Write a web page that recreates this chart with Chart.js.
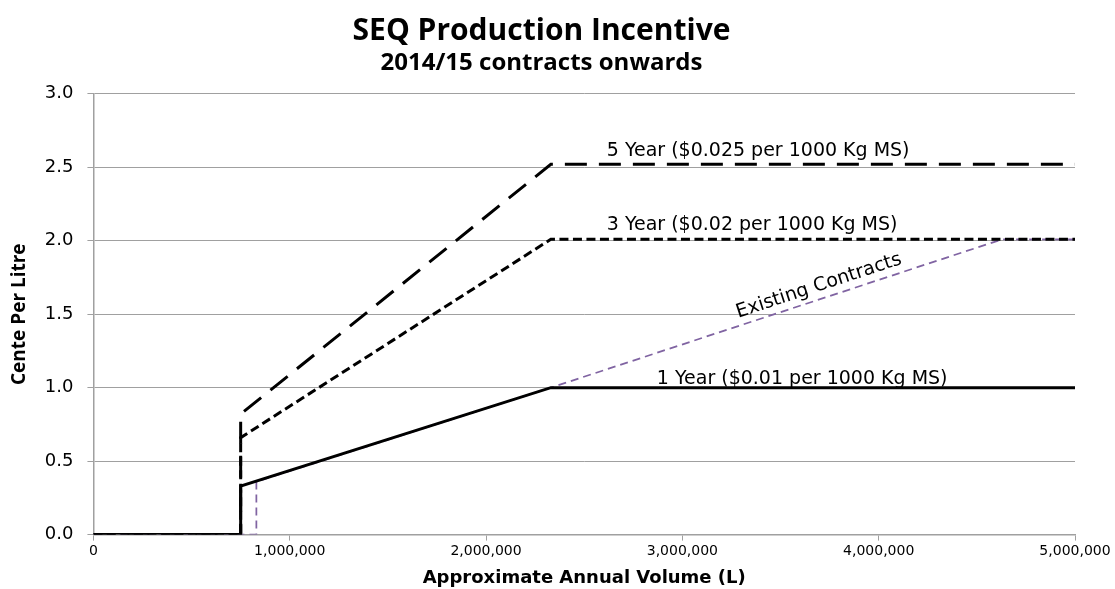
<!DOCTYPE html>
<html>
<head>
<meta charset="utf-8">
<script src="https://cdn.jsdelivr.net/npm/chart.js@4.4.0/dist/chart.umd.min.js"></script>
<style>
  html, body { margin: 0; padding: 0; background: #fff; }
  #wrap { width: 1115px; height: 589px; }
</style>
</head>
<body>
<div id="wrap"><canvas id="incentiveChart" width="1115" height="589"></canvas></div>
<script>
// values
var oneYearX = [0, 750000, 750000, 2330000, 5000000];
var oneYearY = [0, 0, 0.33, 1.0, 1.0];
var threeYearX = [0, 750000, 750000, 2330000, 5000000];
var threeYearY = [0, 0, 0.66, 2.01, 2.01];
var fiveYearX = [0, 750000, 750000, 2330000, 5000000];
var fiveYearY = [0, 0, 0.82, 2.52, 2.52];
var existingX = [0, 830000, 830000, 2330000, 4630000, 5000000];
var existingY = [0, 0, 0.36, 1.0, 2.01, 2.01];

var lineLabels = ['5 Year ($0.025 per 1000 Kg MS)', '3 Year ($0.02 per 1000 Kg MS)', '1 Year ($0.01 per 1000 Kg MS)'];
var lineLabelX = [2615000, 2615000, 2870000];
var lineLabelY = [2.52, 2.01, 1.0];
var lineLabelGap = [8, 9, 4];

function toPoints(xs, ys) {
    var pts = [];
    for (var i = 0; i < xs.length; i++) pts.push({ x: xs[i], y: ys[i] });
    return pts;
}

var labelPlugin = {
    id: 'lineLabels',
    afterDatasetsDraw: function(chart) {
        var ctx = chart.ctx;
        var xs = chart.scales.x, ys = chart.scales.y;
        ctx.save();
        ctx.fillStyle = '#000';
        ctx.font = '19px "DejaVu Sans"';
        ctx.textAlign = 'left';
        ctx.textBaseline = 'alphabetic';
        for (var i = 0; i < lineLabels.length; i++) {
            ctx.fillText(lineLabels[i], xs.getPixelForValue(lineLabelX[i]), ys.getPixelForValue(lineLabelY[i]) - lineLabelGap[i]);
        }
        // label along the existing contracts line
        var x1 = xs.getPixelForValue(existingX[3]), y1 = ys.getPixelForValue(existingY[3]);
        var x2 = xs.getPixelForValue(existingX[4]), y2 = ys.getPixelForValue(existingY[4]);
        var mid = 3716000;
        var t = (mid - existingX[3]) / (existingX[4] - existingX[3]);
        var my = existingY[3] + t * (existingY[4] - existingY[3]);
        ctx.translate(xs.getPixelForValue(mid), ys.getPixelForValue(my));
        ctx.rotate(Math.atan2(y2 - y1, x2 - x1));
        ctx.textAlign = 'center';
        ctx.fillText('Existing Contracts', 0, -8);
        ctx.restore();
    }
};

var ctx = document.getElementById('incentiveChart').getContext('2d');
new Chart(ctx, {
    type: 'line',
    data: {
        datasets: [
            {
                label: '1 Year',
                data: toPoints(oneYearX, oneYearY),
                borderColor: '#000',
                borderWidth: 3
            },
            {
                label: '3 Year',
                data: toPoints(threeYearX, threeYearY),
                borderColor: '#000',
                borderWidth: 3,
                borderDash: [9, 4.5]
            },
            {
                label: '5 Year',
                data: toPoints(fiveYearX, fiveYearY),
                borderColor: '#000',
                borderWidth: 3,
                borderDash: [22, 12]
            },
            {
                label: 'Existing Contracts',
                data: toPoints(existingX, existingY),
                borderColor: '#8064a2',
                borderWidth: 1.75,
                borderDash: [8, 5]
            }
        ]
    },
    options: {
        responsive: false,
        animation: false,
        elements: { point: { radius: 0 }, line: { tension: 0, borderCapStyle: 'butt' } },
        layout: { padding: { left: 8, right: 40, top: 0, bottom: 0 } },
        plugins: {
            legend: { display: false },
            tooltip: { enabled: false },
            title: {
                display: true,
                text: 'SEQ Production Incentive',
                color: '#000',
                font: { family: '"Open Sans"', size: 30, weight: 'bold' },
                padding: { top: 13, bottom: 0 }
            },
            subtitle: {
                display: true,
                text: '2014/15 contracts onwards',
                color: '#000',
                font: { family: '"Open Sans"', size: 24, weight: 'bold' },
                padding: { top: 0, bottom: 16 }
            }
        },
        scales: {
            x: {
                type: 'linear',
                min: 0,
                max: 5000000,
                border: { color: '#a0a0a0', width: 1.5 },
                grid: { drawOnChartArea: false, color: '#a0a0a0', tickLength: 6 },
                ticks: {
                    stepSize: 1000000,
                    color: '#000',
                    font: { family: '"DejaVu Sans"', size: 14 },
                    padding: 2,
                    maxRotation: 0,
                    callback: function(v) { return v.toLocaleString('en-US'); }
                },
                title: {
                    display: true,
                    text: 'Approximate Annual Volume (L)',
                    color: '#000',
                    font: { family: '"DejaVu Sans"', size: 18, weight: 'bold' },
                    padding: { top: 6, bottom: 0 }
                }
            },
            y: {
                min: 0,
                max: 3,
                border: { color: '#a0a0a0', width: 1.5 },
                grid: { color: '#a0a0a0', tickLength: 6 },
                ticks: {
                    stepSize: 0.5,
                    color: '#000',
                    font: { family: '"DejaVu Sans"', size: 18 },
                    padding: 14,
                    callback: function(v) { return v.toFixed(1); }
                },
                title: {
                    display: true,
                    text: 'Cente Per Litre',
                    color: '#000',
                    font: { family: '"Open Sans"', size: 19, weight: 'bold' },
                    padding: { top: 0, bottom: 0 }
                }
            }
        }
    },
    plugins: [labelPlugin]
});
</script>
</body>
</html>
